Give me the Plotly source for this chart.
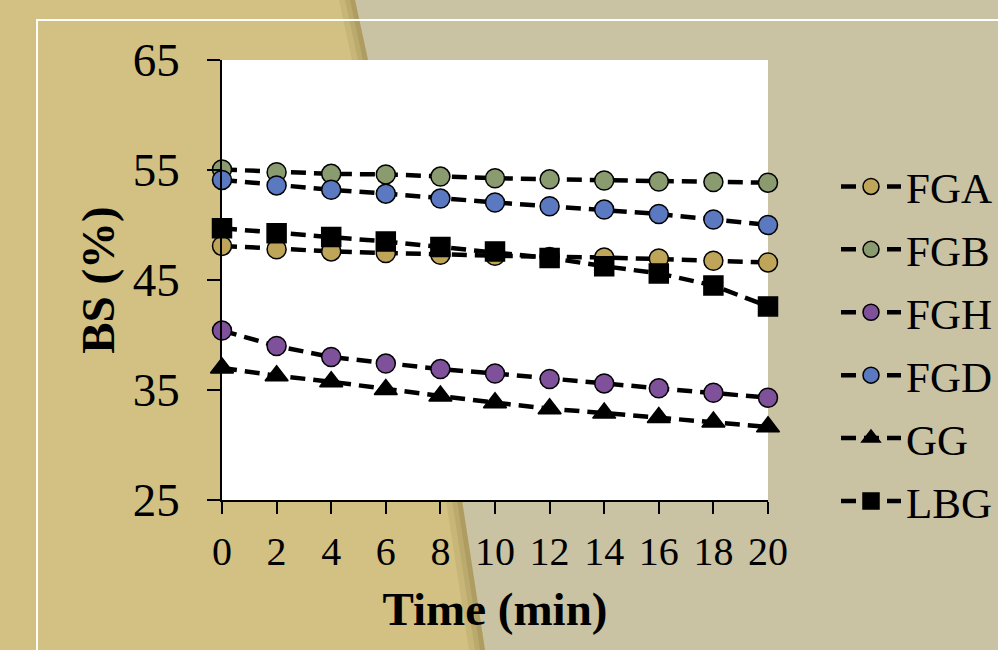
import plotly.graph_objects as go

# ---------------- data ----------------
time_min = [0, 2, 4, 6, 8, 10, 12, 14, 16, 18, 20]
series_names = ["FGA", "FGB", "FGH", "FGD", "GG", "LBG"]
FGA = [48.1, 47.8, 47.6, 47.45, 47.3, 47.2, 47.1, 47.05, 46.95, 46.75, 46.6]
FGB = [55.05, 54.8, 54.65, 54.6, 54.4, 54.25, 54.15, 54.05, 53.95, 53.9, 53.85]
FGH = [40.4, 39.0, 38.0, 37.4, 36.9, 36.5, 36.0, 35.6, 35.15, 34.75, 34.3]
FGD = [54.1, 53.6, 53.2, 52.85, 52.4, 52.05, 51.7, 51.4, 51.0, 50.5, 50.0]
GG = [37.0, 36.3, 35.75, 35.05, 34.45, 33.85, 33.3, 32.9, 32.5, 32.1, 31.65]
LBG = [49.7, 49.25, 48.9, 48.5, 48.0, 47.6, 47.0, 46.25, 45.6, 44.5, 42.6]
values = [FGA, FGB, FGH, FGD, GG, LBG]
y_ticks = [25, 35, 45, 55, 65]
x_ticks = [0, 2, 4, 6, 8, 10, 12, 14, 16, 18, 20]

# ---------------- style ----------------
colors = ["#BEA55A", "#8A9B70", "#7F519B", "#5A79C0", "black", "black"]
symbols = ["circle", "circle", "circle", "circle", "triangle-up", "square"]
sizes = [19, 19, 19, 19, 20, 19]
FONT = "Liberation Serif, Times New Roman, serif"

W, H = 998, 650
L, R, T, B = 222, 768, 60, 500


def px(x):
    return (x - L) / (R - L)


def py(y):
    return (B - y) / (B - T)


fig = go.Figure()
for name, vals, c, s, sz in zip(series_names, values, colors, symbols, sizes):
    fig.add_trace(go.Scatter(
        x=time_min, y=vals, name=name, mode="lines+markers",
        legendgroup=name,
        line=dict(color="black", width=4.5, dash="15px,8px"),
        marker=dict(symbol=s, size=sz, color=c, line=dict(color="black", width=1.5)),
        cliponaxis=False,
    ))

LEFT_BG = "#D2C182"
RIGHT_BG = "#C9C2A3"

# diagonal boundary (pixel coordinates)
bnd = [(355, 0), (368, 60), (462, 500), (485, 650)]


def path_from(points):
    return "M " + " L ".join(f"{px(a):.5f},{py(b):.5f}" for a, b in points) + " Z"


shapes = []
left_poly = [(-5, -5)] + [(bnd[0][0], -5)] + bnd + [(bnd[-1][0], 655), (-5, 655)]
shapes.append(dict(type="path", xref="paper", yref="paper", path=path_from(left_poly),
                   fillcolor=LEFT_BG, line=dict(width=0), layer="below"))
# shadow strips next to the boundary
for w, op in [(16, 0.10), (10, 0.13), (5, 0.16)]:
    pts = bnd + [(a - w, b) for a, b in reversed(bnd)]
    shapes.append(dict(type="path", xref="paper", yref="paper", path=path_from(pts),
                       fillcolor=f"rgba(110,90,40,{op})", line=dict(width=0), layer="below"))
# white plotting area
shapes.append(dict(type="rect", xref="paper", yref="paper", x0=0, x1=1, y0=0, y1=1,
                   fillcolor="white", line=dict(width=0), layer="below"))
# white frame
shapes.append(dict(type="rect", xref="paper", yref="paper",
                   x0=px(37), x1=px(1010), y0=py(20), y1=py(670),
                   fillcolor="rgba(0,0,0,0)", line=dict(color="white", width=2), layer="below"))

fig.update_layout(
    width=W, height=H,
    margin=dict(l=L, r=W - R, t=T, b=H - B, autoexpand=False),
    paper_bgcolor=RIGHT_BG,
    plot_bgcolor="rgba(0,0,0,0)",
    shapes=shapes,
    font=dict(family=FONT, color="black"),
    showlegend=True,
    legend=dict(
        x=px(836), xanchor="left", y=py(152), yanchor="top",
        bgcolor="rgba(0,0,0,0)", font=dict(family=FONT, size=43, color="black"),
        tracegroupgap=4, itemsizing="trace", itemwidth=60,
    ),
    xaxis=dict(
        range=[0, 20], tickmode="array", tickvals=x_ticks,
        ticktext=[str(v) for v in x_ticks],
        showgrid=False, zeroline=False, showline=True, linecolor="black", linewidth=1.5,
        ticks="outside", ticklen=12, tickwidth=1.5, tickcolor="black",
        ticklabelstandoff=3,
        tickfont=dict(family=FONT, size=40, color="black"),
        title=dict(text="<b>Time (min)</b>", font=dict(family=FONT, size=47, color="black"), standoff=19),
    ),
    yaxis=dict(
        range=[25, 65], tickmode="array", tickvals=y_ticks,
        ticktext=[str(v) for v in y_ticks],
        showgrid=False, zeroline=False, showline=True, linecolor="black", linewidth=1.5,
        ticks="outside", ticklen=13, tickwidth=1.5, tickcolor="black",
        ticklabelstandoff=18,
        tickfont=dict(family=FONT, size=47, color="black"),
        title=dict(text="<b>BS (%)</b>", font=dict(family=FONT, size=47, color="black"), standoff=3),
    ),
)

fig.write_html("out.html", config={"displayModeBar": False},
               post_script="document.body.style.margin='0';")
